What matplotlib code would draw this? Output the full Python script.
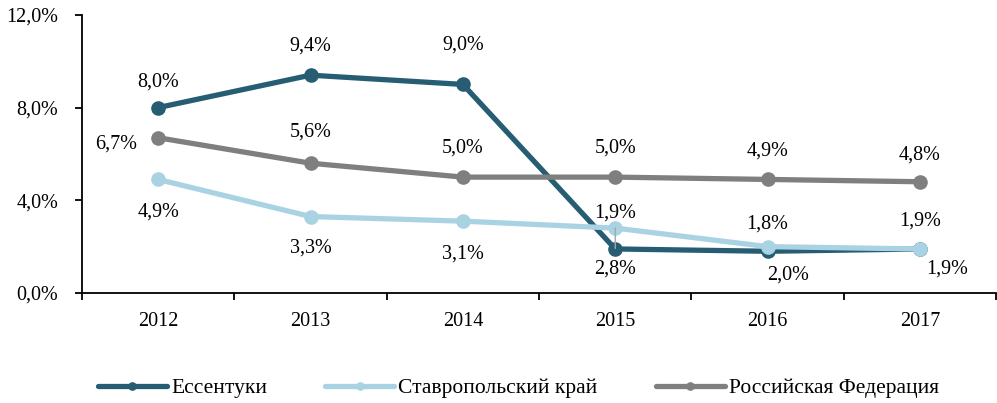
import matplotlib
matplotlib.use("Agg")
from matplotlib import pyplot as plt
from matplotlib.ticker import FuncFormatter

years = ["2012", "2013", "2014", "2015", "2016", "2017"]
essentuki = [8.0, 9.4, 9.0, 1.9, 1.8, 1.9]
stavropol = [4.9, 3.3, 3.1, 2.8, 2.0, 1.9]
russia = [6.7, 5.6, 5.0, 5.0, 4.9, 4.8]
names = ["Ессентуки", "Ставропольский край", "Российская Федерация"]
colors = ["#265D73", "#A9D3E3", "#7F7F7F"]

# label offsets in pixels (dx, dy), y up
off_ess = [(0, 26), (0, 29), (0, 39), (0, 36), (0, 27), (0, 28)]
off_stav = [(0, -33), (0, -32), (0, -33), (0, -41), (20, -28), (27, -20)]
off_rus = [(-42, -6), (0, 31), (0, 29), (0, 29), (0, 28), (0, 27)]

plt.rcParams["font.family"] = ["Liberation Serif", "DejaVu Serif"]
plt.rcParams["font.size"] = 14.5

fig = plt.figure(figsize=(9.97, 4.03), dpi=100)
ax = fig.add_axes([0.0822, 0.273, 0.917, 0.69])

x = list(range(len(years)))
series = [essentuki, stavropol, russia]
offsets = [off_ess, off_stav, off_rus]
for vals, name, c in zip(series, names, colors):
    ax.plot(x, vals, color=c, lw=3.8, marker="o", markersize=9.5, label=name,
            solid_capstyle="round")

for vals, offs, c in zip(series, offsets, colors):
    for i, (v, o) in enumerate(zip(vals, offs)):
        txt = ("%.1f%%" % v).replace(".", ",")
        kw = {}
        if vals is stavropol and i == 3:
            kw["arrowprops"] = dict(arrowstyle="-", color="#A6A6A6", lw=1,
                                    shrinkA=6, shrinkB=0)
        ax.annotate(txt, (i, v), xytext=o, textcoords="offset pixels",
                    ha="center", va="center", **kw)

ax.set_xlim(-0.5, len(years) - 0.5)
ax.set_ylim(0, 12)
ax.set_yticks([0, 4, 8, 12])
ax.yaxis.set_major_formatter(FuncFormatter(lambda v, p: ("%.1f%%" % v).replace(".", ",")))
ax.set_xticks(x)
ax.set_xticklabels(years)
ax.set_xticks([i - 0.5 for i in range(len(years) + 1)], minor=True)
ax.tick_params(axis="x", which="major", length=0, pad=14)
ax.tick_params(axis="x", which="minor", length=5, width=1.3)
ax.tick_params(axis="y", length=5, width=1.3, pad=12)
for s in ["top", "right"]:
    ax.spines[s].set_visible(False)
for s in ["left", "bottom"]:
    ax.spines[s].set_linewidth(1.3)

fig.legend(loc="center", bbox_to_anchor=(0.52, 0.037), ncol=3, frameon=False,
           handlelength=3.2, handletextpad=0.2, columnspacing=2.7,
           markerscale=0.55, fontsize=15.5)

fig.savefig("out.png", dpi=100)
